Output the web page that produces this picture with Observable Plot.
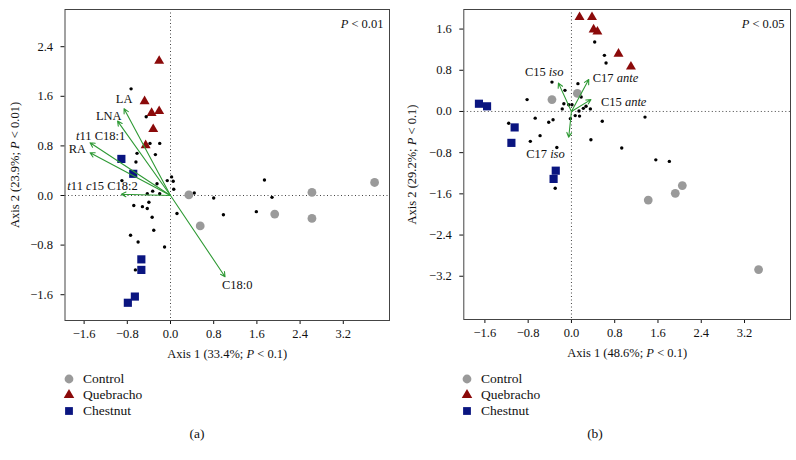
<!DOCTYPE html>
<html>
<head>
<meta charset="utf-8">
<script src="https://cdn.jsdelivr.net/npm/d3@7"></script>
<script src="https://cdn.jsdelivr.net/npm/@observablehq/plot@0.6"></script>
<style>
  html, body { margin: 0; padding: 0; background: #fff; }
  body { font-family: "Liberation Serif", "DejaVu Serif", serif; color: #111; }
  #wrap { display: flex; width: 796px; height: 460px; }
  .panel { position: relative; width: 398px; height: 460px; }
  .legend { position: absolute; top: 371px; font-size: 13.5px; }
  .legend .row { position: relative; height: 16px; width: 200px; }
  .legend svg { position: absolute; left: 0; top: 1px; }
  .legend span { position: absolute; left: 21px; top: 0; line-height: 16px; }
  .caption { position: absolute; top: 426px; left: 0; width: 394px; text-align: center; font-size: 13.5px; line-height: 16px; }
</style>
</head>
<body>
<div id="wrap">
  <div class="panel" id="pa"></div>
  <div class="panel" id="pb"></div>
</div>
<script>
// ---------- shared ----------
const groups = ["Control", "Quebracho", "Chestnut"];
const xTicks = [-1.6, -0.8, 0, 0.8, 1.6, 2.4, 3.2];

// ---------- panel (a) ----------
const aYTicks = [-1.6, -0.8, 0, 0.8, 1.6, 2.4];
const aControl = [[0.34, 0.01], [0.55, -0.49], [1.93, -0.30], [2.62, 0.05], [2.62, -0.37], [3.78, 0.21]];
const aQuebracho = [[-0.21, 2.17], [-0.48, 1.52], [-0.35, 1.33], [-0.21, 1.36], [-0.32, 1.07], [-0.46, 0.81]];
const aChestnut = [[-0.91, 0.59], [-0.69, 0.35], [-0.54, -1.03], [-0.54, -1.20], [-0.66, -1.63], [-0.79, -1.73]];
const aSamples = [
  [-0.73, 1.72], [-0.45, 1.27], [-0.38, 0.84], [-0.20, 0.84], [-0.62, 0.68], [-0.28, 0.66],
  [-0.64, 0.54], [-0.90, 0.24], [-0.25, 0.19], [-0.06, 0.24], [0.02, 0.30], [0.05, 0.23],
  [0.06, 0.10], [-0.43, 0.03], [-0.33, 0.07], [-0.20, 0.03], [0.44, 0.04], [0.80, -0.04],
  [1.74, 0.25], [1.88, -0.03], [0.12, -0.29], [-0.68, -0.16], [-0.52, -0.18], [-0.43, -0.21],
  [-0.40, -0.11], [-0.34, -0.35], [-0.31, -0.56], [-0.74, -0.64], [-0.60, -0.75], [-0.11, -0.83],
  [0.98, -0.31], [1.59, -0.26], [-0.65, -1.20]
];
const aVectorNames = ["LA", "LNA", "*t*11 C18:1", "RA", "*t*11 *c*15 C18:2", "C18:0"];
const aVectorX = [-0.86, -0.98, -1.49, -1.49, -0.91, 1.01];
const aVectorY = [1.40, 1.20, 0.85, 0.69, 0.02, -1.31];

// ---------- panel (b) ----------
const bYTicks = [-3.2, -2.4, -1.6, -0.8, 0, 0.8, 1.6];
const bControl = [[-0.36, 0.23], [0.11, 0.35], [1.42, -1.72], [1.92, -1.59], [2.05, -1.44], [3.46, -3.07]];
const bQuebracho = [[0.15, 1.83], [0.38, 1.83], [0.41, 1.59], [0.48, 1.55], [0.87, 1.12], [1.10, 0.87]];
const bChestnut = [[-1.71, 0.15], [-1.56, 0.10], [-1.05, -0.31], [-1.11, -0.61], [-0.29, -1.15], [-0.33, -1.31]];
const bSamples = [
  [0.43, 1.35], [0.61, 1.09], [0.64, 0.94], [-0.36, 0.57], [0.12, 0.54], [-0.12, 0.41],
  [-0.82, 0.23], [0.18, 0.28], [-0.14, 0.15], [-0.17, 0.05], [-0.05, 0.13], [0.01, 0.13],
  [-0.02, -0.14], [0.14, 0.01], [0.07, -0.08], [0.15, -0.09], [0.22, 0.06], [0.27, 0.10],
  [0.35, 0.05], [-0.67, -0.13], [-0.42, -0.21], [-0.34, -0.16], [-1.16, -0.23], [-0.76, -0.58],
  [-0.58, -0.47], [-0.27, -0.70], [0.36, -0.55], [0.57, -0.19], [0.93, -0.71], [1.36, -0.11],
  [1.56, -0.94], [1.81, -0.97], [-0.30, -1.49]
];
const bVectorNames = ["C15 *iso*", "C17 *ante*", "C15 *ante*", "C17 *iso*"];
const bVectorX = [-0.24, 0.32, 0.36, -0.05];
const bVectorY = [0.55, 0.62, 0.23, -0.50];

// ---------- styling (not data) ----------
const COLORS = {Control: "#9a9a9a", Quebracho: "#8b0a0a", Chestnut: "#0a1580"};
const SYMBOLS = {Control: "circle", Quebracho: "triangle", Chestnut: "square"};
const RADII = {Control: 4.4, Quebracho: 3.7, Chestnut: 4.6};
const ARROW = "#2f9a35";
const labelPlacement = {
  "LA": {textAnchor: "middle", dx: 0, dy: -10},
  "LNA": {textAnchor: "end", dx: 4, dy: -5},
  "*t*11 C18:1": {textAnchor: "start", dx: -14, dy: -7},
  "RA": {textAnchor: "end", dx: -4, dy: -4},
  "*t*11 *c*15 C18:2": {textAnchor: "start", dx: -54, dy: -8},
  "C18:0": {textAnchor: "start", dx: -3, dy: 8},
  "C15 *iso*": {textAnchor: "end", dx: 5, dy: -11},
  "C17 *ante*": {textAnchor: "start", dx: 4, dy: -2},
  "C15 *ante*": {textAnchor: "start", dx: 10, dy: 2},
  "C17 *iso*": {textAnchor: "end", dx: -4, dy: 17}
};

function italicize(root) {
  d3.select(root).selectAll("text").each(function () {
    const t = this.textContent;
    if (!t.includes("*")) return;
    const parts = t.split("*");
    while (this.firstChild) this.removeChild(this.firstChild);
    parts.forEach((p, i) => {
      if (!p) return;
      const ts = document.createElementNS("http://www.w3.org/2000/svg", "tspan");
      ts.textContent = p;
      if (i % 2 === 1) ts.setAttribute("font-style", "italic");
      this.appendChild(ts);
    });
  });
}

function panel(cfg) {
  const vectors = cfg.names.map((n, i) => ({name: n, x: cfg.vx[i], y: cfg.vy[i]}));
  const groupMarks = groups.map(g => Plot.dot(cfg.sets[g], {
    x: d => d[0], y: d => d[1], symbol: SYMBOLS[g], fill: COLORS[g], r: RADII[g], stroke: "none"
  }));
  const labelMarks = vectors.map(v => Plot.text([v], {
    x: "x", y: "y", text: "name", fill: "#111", ...labelPlacement[v.name]
  }));
  const svg = Plot.plot({
    width: 398, height: 362,
    marginLeft: cfg.ml, marginRight: cfg.mr, marginTop: 9, marginBottom: cfg.mb,
    style: {fontFamily: "'Liberation Serif', serif", fontSize: "12.5px", background: "white", color: "#111"},
    x: {domain: cfg.xDomain},
    y: {domain: cfg.yDomain},
    marks: [
      Plot.ruleX([0], {stroke: "#444", strokeDasharray: "1,2.5", strokeWidth: 1}),
      Plot.ruleY([0], {stroke: "#444", strokeDasharray: "1,2.5", strokeWidth: 1}),
      Plot.dot(cfg.samples, {x: d => d[0], y: d => d[1], r: 1.7, fill: "#000", stroke: "none"}),
      ...groupMarks,
      Plot.arrow(vectors, {x1: () => 0, y1: () => 0, x2: "x", y2: "y", stroke: ARROW, strokeWidth: 1.1, headLength: 7, headAngle: 55}),
      ...labelMarks,
      Plot.text([cfg.pText], {frameAnchor: "top-right", dx: -6, dy: 14, lineAnchor: "middle", textAnchor: "end", fill: "#111"}),
      Plot.axisX({ticks: xTicks, tickFormat: d3.format(".1f"), tickSize: 4, tickPadding: 5,
        label: cfg.xLabel, labelAnchor: "center", labelOffset: 37, labelArrow: "none"}),
      Plot.axisY({ticks: cfg.yTicks, tickFormat: d3.format(".1f"), tickSize: 4, tickPadding: 8,
        label: cfg.yLabel, labelAnchor: "center", labelOffset: cfg.ylo, labelArrow: "none"}),
      Plot.frame({stroke: "#444", strokeWidth: 1})
    ]
  });
  italicize(svg);
  return svg;
}

function legendAndCaption(container, caption, left) {
  const lg = document.createElement("div");
  lg.className = "legend";
  lg.style.left = left + "px";
  groups.forEach(g => {
    const row = document.createElement("div");
    row.className = "row";
    const s = d3.create("svg").attr("width", 14).attr("height", 14);
    s.append("path")
      .attr("transform", "translate(7,7)")
      .attr("d", d3.symbol(g === "Control" ? d3.symbolCircle : g === "Quebracho" ? d3.symbolTriangle : d3.symbolSquare,
        Math.PI * Math.pow(g === "Control" ? 4.4 : g === "Quebracho" ? 3.9 : 4.4, 2))())
      .attr("fill", COLORS[g]);
    row.appendChild(s.node());
    const sp = document.createElement("span");
    sp.textContent = g;
    row.appendChild(sp);
    lg.appendChild(row);
  });
  container.appendChild(lg);
  const cap = document.createElement("div");
  cap.className = "caption";
  cap.textContent = caption;
  container.appendChild(cap);
}

const pa = document.getElementById("pa");
pa.appendChild(panel({
  sets: {Control: aControl, Quebracho: aQuebracho, Chestnut: aChestnut},
  samples: aSamples, names: aVectorNames, vx: aVectorX, vy: aVectorY,
  xDomain: [-1.954, 4.056], yDomain: [-2.016, 3.0], yTicks: aYTicks,
  ml: 64.5, mr: 9, mb: 42, ylo: 55,
  xLabel: "Axis 1 (33.4%; *P* < 0.1)", yLabel: "Axis 2 (23.9%; *P* < 0.01)", pText: "*P* < 0.01"
}));
legendAndCaption(pa, "(a)", 62);

const pb = document.getElementById("pb");
pb.appendChild(panel({
  sets: {Control: bControl, Quebracho: bQuebracho, Chestnut: bChestnut},
  samples: bSamples, names: bVectorNames, vx: bVectorX, vy: bVectorY,
  xDomain: [-1.99, 4.05], yDomain: [-4.04, 1.98], yTicks: bYTicks,
  ml: 65.3, mr: 6, mb: 43, ylo: 57,
  xLabel: "Axis 1 (48.6%; *P* < 0.1)", yLabel: "Axis 2 (29.2%; *P* < 0.1)", pText: "*P* < 0.05"
}));
legendAndCaption(pb, "(b)", 62);
</script>
</body>
</html>
